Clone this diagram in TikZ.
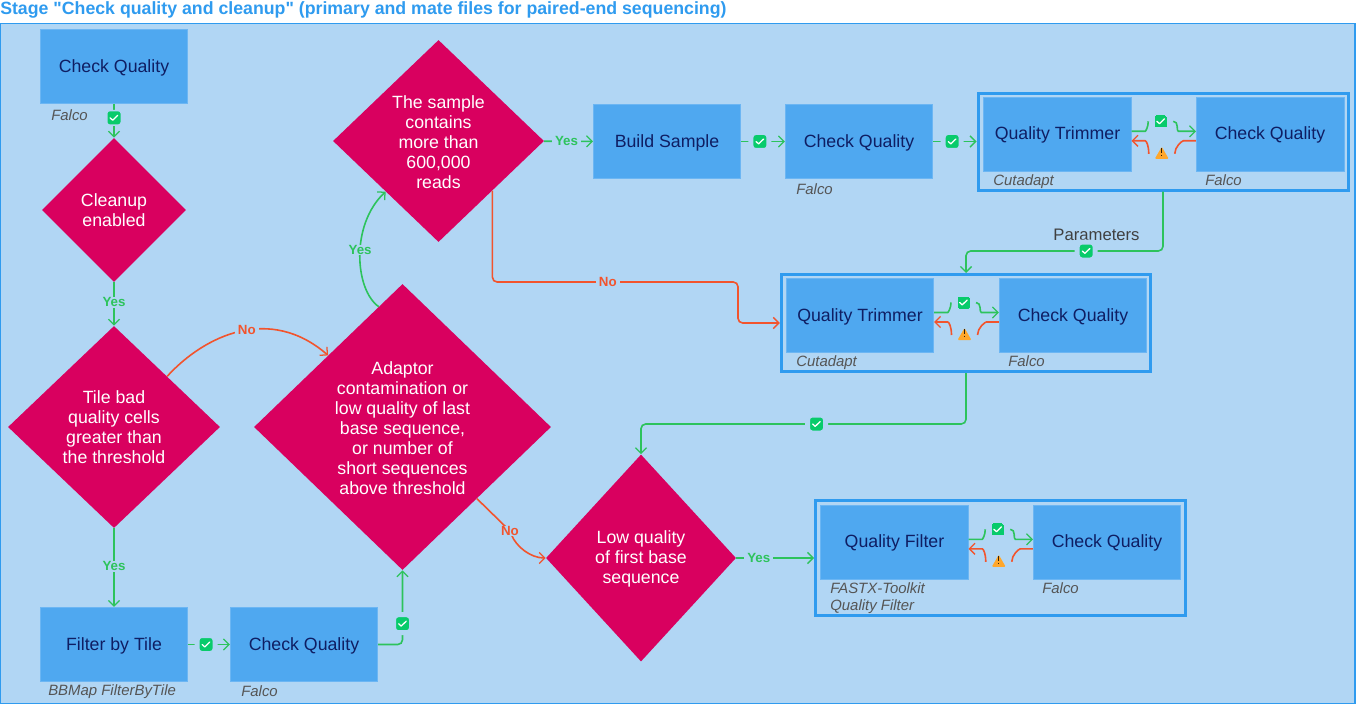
\documentclass[tikz,border=0pt]{standalone}
\usepackage{fontspec}
\setmainfont{Liberation Sans}[Ligatures=TeXOff]
\usetikzlibrary{arrows.meta,calc,shapes.geometric}
\definecolor{panelbg}{HTML}{B1D6F4}
\definecolor{frameblue}{HTML}{2F9BEF}
\definecolor{boxblue}{HTML}{4FA8F0}
\definecolor{boxedge}{HTML}{6CB6F3}
\definecolor{navy}{HTML}{0F1E63}
\definecolor{magenta}{HTML}{D9005F}
\definecolor{okline}{HTML}{2DC35C}
\definecolor{noline}{HTML}{F2542D}
\definecolor{okfill}{HTML}{08CB6B}
\definecolor{warnfill}{HTML}{FFA72B}
\definecolor{toolgrey}{HTML}{555555}
\tikzset{
  x=0.75pt,y=-0.75pt,
  tip/.style={-{Straight Barb[length=4.2pt,width=8.4pt,line width=0.95pt]}},
  gl/.style={draw=okline,line width=1.2pt,tip,rounded corners=3.5pt},
  gn/.style={draw=okline,line width=1.2pt,rounded corners=3.5pt},
  rl/.style={draw=noline,line width=1.2pt,tip,rounded corners=3.5pt},
  rn/.style={draw=noline,line width=1.2pt,rounded corners=3.5pt},
  stepbox/.style={rectangle,fill=boxblue,draw=boxedge,line width=0.4pt,text=navy,
    minimum width=147.5*.75pt,minimum height=74.5*.75pt,inner sep=0pt,
    text height=9.6pt,text depth=1.3pt,
    font=\fontsize{13.3}{15}\selectfont},
  choice/.style={diamond,aspect=1,fill=magenta,text=white,inner sep=0pt,align=center,
    font=\fontsize{13.3}{15}\selectfont},
  choicetext/.style={text=white,inner sep=0pt,align=center,yshift=-0.75pt,
    font=\fontsize{13.3}{15}\selectfont},
  grp/.style={rectangle,draw=frameblue,line width=3*.75pt,inner sep=0pt},
  tool/.style={anchor=west,inner sep=0pt,text=toolgrey,text height=8pt,text depth=0.2pt,
    font=\fontsize{11.2}{13}\selectfont\itshape},
  yeslab/.style={fill=panelbg,text=okline,inner xsep=2.2pt,inner ysep=0.6pt,rounded corners=0pt,
    font=\fontsize{10}{12}\selectfont\bfseries},
  nolab/.style={fill=panelbg,text=noline,inner xsep=2.6pt,inner ysep=0.6pt,rounded corners=0pt,
    font=\fontsize{10}{12}\selectfont\bfseries},
  okbadge/.style={rectangle,fill=okfill,draw=panelbg,line width=#1*.75pt,
    minimum size=(13+#1)*.75pt,inner sep=0pt,rounded corners=(2+.5*#1)*.75pt,
    path picture={\draw[-,white,line width=0.95pt,line cap=round,line join=round,sharp corners]
      ([shift={(-2.9pt,0pt)}]path picture bounding box.center) -- ++(1.9pt,-1.8pt) -- ++(3.8pt,3.7pt);}},
  okbadge/.default=5,
  warnbadge/.style={regular polygon,regular polygon sides=3,fill=warnfill,minimum size=12pt,inner sep=0pt,
    rounded corners=0.8pt,
    path picture={\draw[-,black!80!warnfill,line width=0.9pt,sharp corners]
      ([shift={(0pt,3.4pt)}]path picture bounding box.center) -- ++(0pt,-3.6pt)
      ([shift={(0pt,-1.3pt)}]path picture bounding box.center) -- ++(0pt,-1pt);}},
}
\newcommand{\innerpair}[3]{%
  \node[okbadge=0] (ok#3) at ($(#1.east)!.5!(#2.west)+(-3,-13)$) {};
  \node[warnbadge] (warn#3) at ($(#1.east)!.5!(#2.west)+(-2,20.5)$) {};
  \draw[gn] ($(#1.east)+(0,-3)$) -- ++(9,0) .. controls +(5,0) and +(0,6) .. ($(ok#3.west)+(-6,0)$);
  \draw[gl] ($(ok#3.east)+(6,0)$) .. controls +(6,0) and +(-7,0) .. ($(#2.west)+(-13,-3)$) -- ($(#2.west)+(0,-3)$);
  \draw[rn] ($(#2.west)+(0,6.5)$) -- ++(-8,0) .. controls +(-6,0) and +(0,-7) .. ($(warn#3.center)+(13,-1)$);
  \draw[rl] ($(warn#3.center)+(-13,-1)$) .. controls +(0,-8) and +(6,0) .. ($(#1.east)+(9,6.5)$) -- ($(#1.east)+(0,6.5)$);
}
\begin{document}
\begin{tikzpicture}
\useasboundingbox (0,0) rectangle (1356,706);
\node[rectangle,fill=panelbg,draw=frameblue,line width=1.1pt,minimum width=1355*.75pt,minimum height=680*.75pt,inner sep=0pt] (panel) at (677.5,363.5) {};
\node[anchor=west,inner sep=0pt,text=frameblue,font=\fontsize{13.3}{15}\selectfont\bfseries] (title) at (0,10) {Stage "Check quality and cleanup" (primary and mate files for paired-end sequencing)};

% groups
\node[grp,minimum width=370*.75pt,minimum height=97*.75pt] (g1) at (1163,141.7) {};
\node[grp,minimum width=369.5*.75pt,minimum height=97*.75pt] (g2) at (966,323) {};
\node[grp,minimum width=370*.75pt,minimum height=114.5*.75pt] (g3) at (1000.5,558) {};

% steps
\node[stepbox] (cq1) at (114,66.5) {Check Quality};
\node[stepbox] (filter) at (114,644.5) {Filter by Tile};
\node[stepbox] (cq2) at (304,644.5) {Check Quality};
\node[stepbox] (build) at (667,141.5) {Build Sample};
\node[stepbox] (cq3) at (859,141.5) {Check Quality};
\node[stepbox] (qt1) at (1057.5,134.3) {Quality Trimmer};
\node[stepbox] (cq4) at (1270,134.3) {Check Quality};
\node[stepbox] (qt2) at (860,315.5) {Quality Trimmer};
\node[stepbox] (cq5) at (1073,315.5) {Check Quality};
\node[stepbox] (qf) at (894.5,542.3) {Quality Filter};
\node[stepbox] (cq6) at (1107,542.3) {Check Quality};

% decisions
\node[choice,minimum width=144*.75pt,minimum height=144*.75pt] (cleanup) at (114,210) {Cleanup\\enabled};
\node[choice,minimum width=212*.75pt,minimum height=202*.75pt] (tile) at (114,427) {Tile bad\\quality cells\\greater than\\the threshold};
\node[choice,minimum width=297*.75pt,minimum height=286*.75pt,label={[choicetext]center:{Adaptor\\contamination or\\low quality of last\\base sequence,\\or number of\\short sequences\\above threshold}}] (adapt) at (402.5,427) {};
\node[choice,minimum width=211*.75pt,minimum height=202*.75pt,label={[choicetext]center:{The sample\\contains\\more than\\600,000\\reads}}] (sample) at (438.5,141) {};
\node[choice,minimum width=190*.75pt,minimum height=207*.75pt,label={[choicetext]center:{Low quality\\of first base\\sequence}}] (low) at (641,558) {};

% tool captions
\node[tool] (t1) at (51,115.5) {Falco};
\node[tool] (t2) at (48,690) {BBMap FilterByTile};
\node[tool] (t3) at (241,691.5) {Falco};
\node[tool] (t4) at (796,189.5) {Falco};
\node[tool] (t5) at (993,180) {Cutadapt};
\node[tool] (t6) at (1205,180) {Falco};
\node[tool] (t7) at (796,361) {Cutadapt};
\node[tool] (t8) at (1008,361) {Falco};
\node[tool] (t9) at (830,588) {FASTX-Toolkit};
\node[tool] (t10) at (830,605) {Quality Filter};
\node[tool] (t11) at (1042,588) {Falco};
\node[anchor=center,inner sep=0pt,text=black!75,font=\fontsize{12.5}{14}\selectfont] (params) at (1096.5,234.5) {Parameters};

% connectors
\draw[gl] (cq1) -- node[okbadge=1.5,pos=.41] (b1) {} (cleanup);
\draw[gl] (cleanup) -- node[yeslab,pos=.46] (l1) {Yes} (tile);
\draw[gl] (tile) -- node[yeslab,pos=.48] (l2) {Yes} (filter);
\draw[gl] (filter) -- node[okbadge,pos=.43] (b2) {} (cq2);
\draw[gl] (cq2.east) -| node[okbadge,pos=.64] (b3) {} (adapt.south);
\draw[rl] (tile.north east) .. controls (205,335) and (270,305) .. node[nolab,pos=.54] (l3) {No} (adapt.north west);
\draw[gl] ($(adapt.north)!.16!(adapt.west)$) .. controls (355,290) and (350,225) .. node[yeslab,pos=.54] (l4) {Yes} (sample.south west);
\draw[rl] (adapt.south east) -- node[nolab,pos=1] (l5) {No} (510,531) .. controls (516,546) and (530,558) .. (low.west);
\draw[gl] (sample) -- node[yeslab,pos=.46] (l6) {Yes} (build);
\draw[gl] (build) -- node[okbadge,pos=.43] (b4) {} (cq3);
\draw[gl] (cq3.east) -- node[okbadge,pos=.44] (b5) {} (g1.west |- cq3.east);
\coordinate (s1) at ($(sample.east)!.49!(sample.south)$);
\coordinate (j1) at (s1 |- 0,282);
\coordinate (j2) at (738,282);
\draw[rl] (s1) -- (j1) -- node[nolab,pos=.47] (l7) {No} (j2) -- (j2 |- g2.west) -- (g2.west);
\coordinate (j3) at (1163,251);
\draw[gl] (g1.south) -- (j3) -- node[okbadge,pos=.39] (b6) {} (j3 -| g2.north) -- (g2.north);
\coordinate (j4) at (966,424);
\draw[gl] (g2.south) -- (j4) -- node[okbadge,pos=.46] (b7) {} (j4 -| low.north) -- (low.north);
\draw[gl] (low) -- node[yeslab,pos=.29] (l8) {Yes} (g3);

\innerpair{qt1}{cq4}{a}
\innerpair{qt2}{cq5}{c}
\innerpair{qf}{cq6}{e}
\end{tikzpicture}
\end{document}
